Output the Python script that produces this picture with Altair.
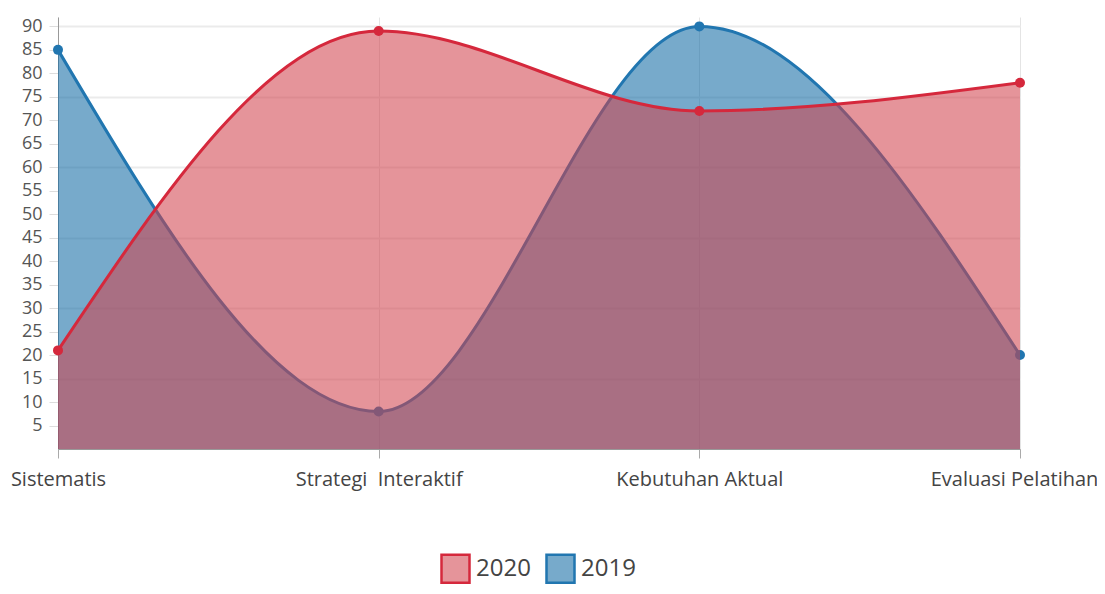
import altair as alt
import pandas as pd

categories = ["Sistematis", "Strategi\u00a0 Interaktif", "Kebutuhan Aktual", "Evaluasi Pelatihan"]
series_names = ["2020", "2019"]
values_2020 = [21, 89, 72, 78]
values_2019 = [85, 8, 90, 20]
y_tick_values = list(range(5, 95, 5))
y_grid_values = [15, 30, 45, 60, 75, 90]

red_line = "#d5283c"
blue_line = "#2176b0"
red_fill = "rgba(209,64,75,0.56)"
blue_fill = "rgba(13,104,162,0.56)"

rows = []
for name, vals in zip(series_names, [values_2020, values_2019]):
    for c, v in zip(categories, vals):
        rows.append({"category": c, "value": v, "series": name})
df = pd.DataFrame(rows)

grid_test = "indexof([" + ",".join(str(v) for v in y_grid_values) + "], datum.value) >= 0"
last_label_test = "datum.value === '" + categories[-1] + "'"

x_enc = alt.X(
    "category:N", sort=categories,
    scale=alt.Scale(type="point", padding=0),
    axis=alt.Axis(title=None, labelAngle=0, grid=True, gridColor="#e4e4e4", gridWidth=1,
                  domainColor="#999999", tickColor="#aaaaaa", tickSize=9,
                  labelFontSize=20, labelColor="#444444", labelPadding=11,
                  labelOffset={"condition": {"test": last_label_test, "value": -6}, "value": 0}),
)
y_enc = alt.Y(
    "value:Q",
    scale=alt.Scale(domain=[0, 92], nice=False, zero=True),
    axis=alt.Axis(title=None, values=y_tick_values, grid=True,
                  gridOpacity={"condition": {"test": grid_test, "value": 1}, "value": 0},
                  gridColor="#ebebeb", gridWidth=2,
                  domainColor="#999999", tickColor="#dddddd", tickSize=9,
                  labelFontSize=18, labelColor="#555555", labelPadding=7, labelOverlap=False),
)

fill_scale = alt.Scale(domain=series_names, range=[red_fill, blue_fill])
stroke_scale = alt.Scale(domain=series_names, range=[red_line, blue_line])
legend = alt.Legend(title=None, orient="none", legendX=382, legendY=536, direction="horizontal",
                    symbolType="square", symbolSize=784, symbolStrokeWidth=2.5,
                    labelFontSize=24, labelColor="#444444", columnPadding=10, labelOffset=5)

line_colors = {"2020": red_line, "2019": blue_line}


def series_layers(name):
    base = alt.Chart(df).transform_filter(alt.datum.series == name)
    area = base.mark_area(interpolate="monotone", fillOpacity=1).encode(
        x=x_enc, y=y_enc, fill=alt.Fill("series:N", scale=fill_scale, legend=legend))
    line = base.mark_line(interpolate="monotone", strokeWidth=3).encode(
        x=x_enc, y=y_enc, stroke=alt.Stroke("series:N", scale=stroke_scale, legend=legend))
    pts = base.mark_circle(size=100, opacity=1, color=line_colors[name]).encode(x=x_enc, y=y_enc)
    return [area, line, pts]


chart = alt.layer(*(series_layers("2019") + series_layers("2020"))).properties(
    width=962, height=432,
    autosize=alt.AutoSizeParams(type="none"),
    padding={"left": 50, "top": 9, "right": 77, "bottom": 137},
).configure(font="Open Sans").configure_view(stroke=None)

chart.save("out.html", embed_options={"renderer": "svg", "actions": False})
